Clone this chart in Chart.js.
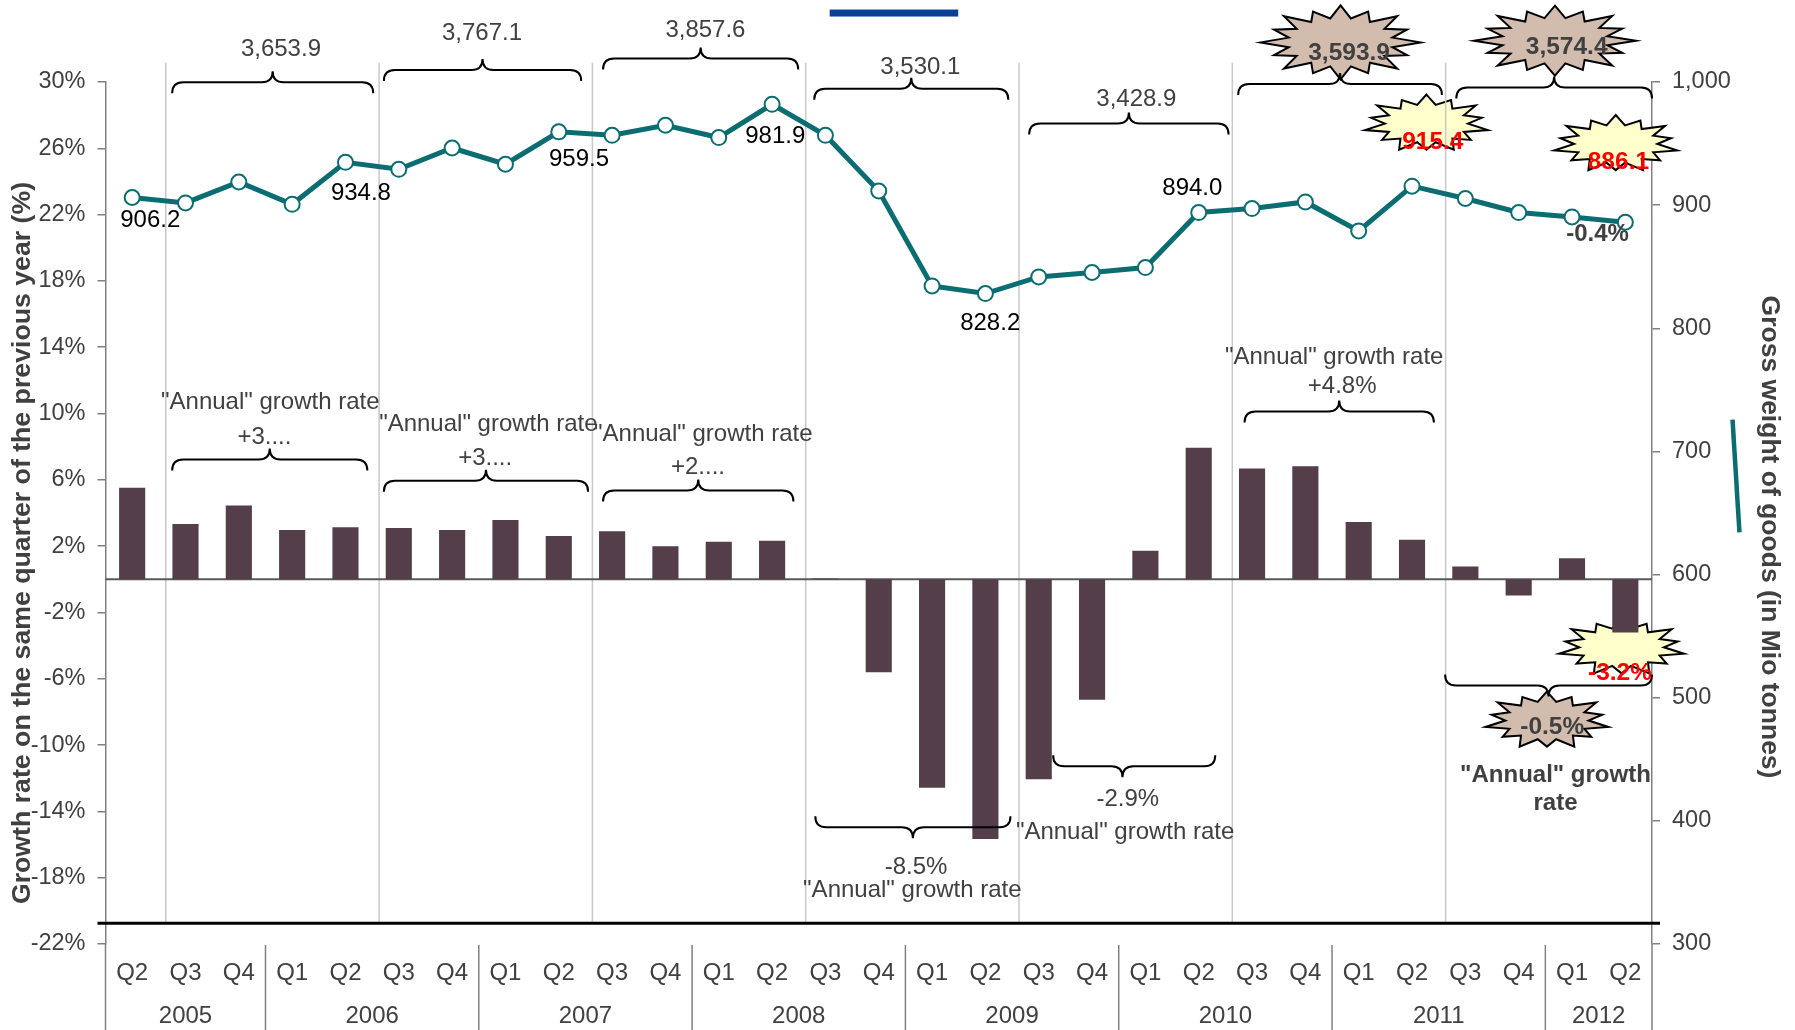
<!DOCTYPE html>
<html>
<head>
<meta charset="utf-8">
<title>Gross weight of goods</title>
<script src="https://cdn.jsdelivr.net/npm/chart.js@4.4.1/dist/chart.umd.min.js"></script>
<style>
  body { margin: 0; background: #fff; }
  canvas { display: block; }
</style>
</head>
<body>
<canvas id="chart" width="1795" height="1030"></canvas>
<script>
// categories
const years = ["2005", "2006", "2007", "2008", "2009", "2010", "2011", "2012"];
const quartersPerYear = [3, 4, 4, 4, 4, 4, 4, 2];
const quarters = [
  "Q2", "Q3", "Q4",
  "Q1", "Q2", "Q3", "Q4",
  "Q1", "Q2", "Q3", "Q4",
  "Q1", "Q2", "Q3", "Q4",
  "Q1", "Q2", "Q3", "Q4",
  "Q1", "Q2", "Q3", "Q4",
  "Q1", "Q2", "Q3", "Q4",
  "Q1", "Q2"
];

// growth rate on same quarter of previous year (%), left axis
const growthRate = [
  5.53, 3.34, 4.45, 2.98, 3.14, 3.10, 2.98, 3.58, 2.62, 2.90,
  1.99, 2.27, 2.32, 0.05, -5.61, -12.58, -15.66, -12.06, -7.27, 1.73,
  7.93, 6.68, 6.82, 3.46, 2.38, 0.78, -0.98, 1.27, -3.21
];

// gross weight of goods (Mio tonnes), right axis
const grossWeight = [
  906.2, 901.8, 918.8, 900.7, 934.8, 929.1, 946.4, 933.2, 959.5, 956.7,
  964.9, 954.9, 981.9, 956.7, 911.5, 834.4, 828.2, 841.7, 845.3, 849.3,
  894.0, 897.2, 902.6, 879.1, 915.4, 905.4, 894.0, 890.4, 886.1
];

// first quarter (Q3) of each "annual" period
const periodStarts = [1, 5, 9, 13, 17, 21, 25];
const periodTotals = ["3,653.9", "3,767.1", "3,857.6", "3,530.1", "3,428.9", "3,593.9", "3,574.4"];
const annualRates = ["+3....", "+3....", "+2....", "-8.5%", "-2.9%", "+4.8%", "-0.5%"];
const labelledPoints = [0, 4, 8, 12, 16, 20];

const FONT = "'Liberation Sans', Arial, sans-serif";
const BAR = "#533e4a";
const TEAL = "#0b6d71";
const TAN = "#d2bcae";
const YELLOW = "#ffffcc";
const GREY_TXT = "#404040";

// annotation layout, anchored in category index / left-axis units
// [from, to, y, dir (-1 tip up, 1 tip down), tip]
const braces = [
  [0.75, 4.52, 29.98, -1], [4.72, 8.42, 30.72, -1], [8.83, 12.49, 31.42, -1],
  [12.79, 16.43, 29.6, -1], [16.82, 20.56, 27.5, -1], [20.74, 24.56, 29.88, -1],
  [24.83, 28.5, 29.67, -1],
  [0.75, 4.41, 7.22, -1], [4.72, 8.55, 5.95, -1], [8.83, 12.4, 5.35, -1],
  [20.86, 24.41, 10.13, -1],
  [12.81, 16.47, -14.96, 1], [17.27, 20.31, -11.28, 1, 18.57], [24.62, 28.5, -6.41, 1]
];
// [text, x, y, bold, colour]
const notes = [
  [periodTotals[0], 2.79, 31.95], [periodTotals[1], 6.56, 32.91], [periodTotals[2], 10.75, 33.09],
  [periodTotals[3], 14.78, 30.9], [periodTotals[4], 18.83, 28.98],
  ['"Annual" growth rate', 2.59, 10.68], [annualRates[0], 2.48, 8.56],
  ['"Annual" growth rate', 6.68, 9.37], [annualRates[1], 6.62, 7.32],
  ['"Annual" growth rate', 10.71, 8.77], [annualRates[2], 10.61, 6.76],
  [annualRates[3], 14.7, -17.36], ['"Annual" growth rate', 14.63, -18.78],
  [annualRates[4], 18.67, -13.3], ['"Annual" growth rate', 18.62, -15.26],
  ['"Annual" growth rate', 22.54, 13.39], [annualRates[5], 22.69, 11.62],
  ['"Annual" growth', 26.69, -11.84, true], ["rate", 26.69, -13.53, true],
  ["-0.4%", 27.48, 20.83, true]
];
// point label offsets (index, y) for labelledPoints
const pointNotePos = [[0.34, 21.63], [4.29, 23.3], [8.38, 25.36], [12.06, 26.7], [16.09, 15.44], [19.88, 23.6]];
// [cx, cy, rx, ry, spikes, fill, text, tx, ty, colour]
const bursts = [
  [22.66, 32.39, 80, 37, 16, TAN, periodTotals[5], 22.82, 31.71, GREY_TXT],
  [26.68, 32.49, 81, 35, 16, TAN, periodTotals[6], 26.9, 32.08, GREY_TXT],
  [24.27, 27.49, 63, 29, 14, YELLOW, "915.4", 24.39, 26.36, "#ff0000"],
  [27.82, 26.26, 63, 29, 14, YELLOW, "886.1", 27.87, 25.15, "#ff0000"],
  [27.93, -4.1, 64, 29, 14, YELLOW, "-3.2%", 27.9, -5.69, "#ff0000"],
  [26.53, -8.52, 63, 29, 14, TAN, annualRates[6], 26.63, -8.93, GREY_TXT]
];

function drawBurst(ctx, cx, cy, rx, ry, n, fill) {
  ctx.beginPath();
  for (let k = 0; k < 2 * n; k++) {
    const ang = -Math.PI / 2 + k * Math.PI / n;
    const f = k % 2 ? 0.66 : ((k / 2) % 2 ? 0.9 : 1);
    const px = cx + Math.cos(ang) * rx * f, py = cy + Math.sin(ang) * ry * f;
    if (k) ctx.lineTo(px, py); else ctx.moveTo(px, py);
  }
  ctx.closePath();
  ctx.fillStyle = fill;
  ctx.fill();
  ctx.lineWidth = 2;
  ctx.strokeStyle = "#000";
  ctx.stroke();
}

function drawBrace(ctx, x1, x2, y, u, tx) {
  const r = 11, leg = 11, tip = 11;
  ctx.beginPath();
  ctx.moveTo(x1, y - u * leg);
  ctx.quadraticCurveTo(x1, y, x1 + r, y);
  ctx.lineTo(tx - r, y);
  ctx.quadraticCurveTo(tx, y, tx, y + u * tip);
  ctx.quadraticCurveTo(tx, y, tx + r, y);
  ctx.lineTo(x2 - r, y);
  ctx.quadraticCurveTo(x2, y, x2, y - u * leg);
  ctx.stroke();
}

const decorations = {
  id: "decorations",
  beforeDatasetsDraw(chart) {
    const { ctx, chartArea: a, scales: { x, y } } = chart;
    const X = v => x.getPixelForValue(v), Y = v => y.getPixelForValue(v);
    const w = X(1) - X(0);
    ctx.save();
    bursts.forEach(b => drawBurst(ctx, X(b[0]), Y(b[1]), b[2], b[3], b[4], b[5]));
    // period separators
    ctx.strokeStyle = "#c8c8c8";
    ctx.lineWidth = 1.5;
    periodStarts.forEach(i => {
      const px = X(i) - 0.37 * w;
      ctx.beginPath(); ctx.moveTo(px, Y(31.16)); ctx.lineTo(px, Y(-20.75)); ctx.stroke();
    });
    // zero line
    ctx.strokeStyle = "#595959";
    ctx.lineWidth = 2;
    ctx.beginPath(); ctx.moveTo(a.left, Y(0)); ctx.lineTo(a.right, Y(0)); ctx.stroke();
    ctx.restore();
  },
  afterDatasetsDraw(chart) {
    const { ctx, chartArea: a, scales: { x, y } } = chart;
    const X = v => x.getPixelForValue(v), Y = v => y.getPixelForValue(v);
    ctx.save();
    // black base line
    ctx.strokeStyle = "#000";
    ctx.lineWidth = 3;
    ctx.beginPath(); ctx.moveTo(a.left - 8, Y(-20.75)); ctx.lineTo(a.right + 8, Y(-20.75)); ctx.stroke();

    // braces
    ctx.lineWidth = 2;
    ctx.strokeStyle = "#000";
    braces.forEach(b => {
      const tip = b[4] !== undefined ? b[4] : (b[0] + b[1]) / 2;
      drawBrace(ctx, X(b[0]), X(b[1]), Y(b[2]), b[3], X(tip));
    });

    ctx.textAlign = "center";
    ctx.textBaseline = "middle";
    // burst labels
    bursts.forEach(b => {
      ctx.font = "bold 24.5px " + FONT;
      ctx.fillStyle = b[9];
      ctx.fillText(b[6], X(b[7]), Y(b[8]));
    });
    // notes
    notes.forEach(n => {
      ctx.font = (n[3] ? "bold " : "") + "24px " + FONT;
      ctx.fillStyle = n[4] || GREY_TXT;
      ctx.fillText(n[0], X(n[1]), Y(n[2]));
    });
    // point value labels
    ctx.font = "24px " + FONT;
    ctx.fillStyle = "#000";
    labelledPoints.forEach((i, k) => {
      ctx.fillText(grossWeight[i].toFixed(1), X(pointNotePos[k][0]), Y(pointNotePos[k][1]));
    });
    ctx.restore();
  },
  afterDraw(chart) {
    const { ctx, chartArea: a, scales: { x, y } } = chart;
    const X = v => x.getPixelForValue(v), Y = v => y.getPixelForValue(v);
    const H = chart.height;
    ctx.save();
    // category axis: quarters and years
    ctx.font = "24px " + FONT;
    ctx.fillStyle = GREY_TXT;
    ctx.textAlign = "center";
    ctx.textBaseline = "middle";
    quarters.forEach((q, i) => ctx.fillText(q, X(i), a.bottom + 29));
    ctx.strokeStyle = "#808080";
    ctx.lineWidth = 1.5;
    let s = 0;
    years.forEach((yr, k) => {
      const e = s + quartersPerYear[k] - 1;
      ctx.fillText(yr, (X(s) + X(e)) / 2, a.bottom + 72);
      if (k < years.length - 1) {
        const px = (X(e) + X(e + 1)) / 2;
        ctx.beginPath(); ctx.moveTo(px, a.bottom + 1); ctx.lineTo(px, H); ctx.stroke();
      }
      s = e + 1;
    });
    // axis lines continue down through the category labels
    [a.left, a.right].forEach(px => {
      ctx.beginPath(); ctx.moveTo(px, a.bottom); ctx.lineTo(px, H); ctx.stroke();
    });

    // axis titles
    ctx.fillStyle = GREY_TXT;
    ctx.font = "bold 26.7px " + FONT;
    ctx.save();
    ctx.translate(23, 543);
    ctx.rotate(-Math.PI / 2);
    ctx.fillText("Growth rate on the same quarter of the previous year (%)", 0, 0);
    ctx.restore();
    ctx.font = "bold 26.5px " + FONT;
    ctx.save();
    ctx.translate(1769, 537);
    ctx.rotate(Math.PI / 2);
    ctx.fillText("Gross weight of goods (in Mio tonnes)", 0, 0);
    ctx.restore();

    // stray marks of the original
    ctx.strokeStyle = TEAL;
    ctx.lineWidth = 4.5;
    ctx.beginPath(); ctx.moveTo(X(30.01), Y(9.63)); ctx.lineTo(X(30.14), Y(2.83)); ctx.stroke();
    ctx.fillStyle = "#0a3f93";
    ctx.fillRect(X(13.08), Y(34.16) - 3.5, X(15.49) - X(13.08), 7);
    ctx.restore();
  }
};

const labels = quarters.map((q, i) => {
  let s = 0;
  for (let k = 0; k < years.length; k++) {
    if (i < s + quartersPerYear[k]) return years[k] + " " + q;
    s += quartersPerYear[k];
  }
  return q;
});

new Chart(document.getElementById("chart"), {
  type: "bar",
  data: {
    labels,
    datasets: [
      {
        type: "line",
        label: "Gross weight of goods",
        data: grossWeight,
        yAxisID: "y1",
        order: 0,
        borderColor: TEAL,
        borderWidth: 5,
        tension: 0,
        pointRadius: 7.5,
        pointBorderWidth: 2,
        pointBackgroundColor: "#fff",
        pointBorderColor: TEAL
      },
      {
        type: "bar",
        label: "Growth rate",
        data: growthRate,
        yAxisID: "y",
        order: 1,
        backgroundColor: BAR,
        barPercentage: 0.49,
        categoryPercentage: 1
      }
    ]
  },
  options: {
    responsive: false,
    animation: false,
    layout: { padding: { top: 82, bottom: 86, left: 0, right: 0 } },
    plugins: { legend: { display: false }, tooltip: { enabled: false } },
    scales: {
      x: { display: false, offset: true },
      y: {
        position: "left",
        min: -22, max: 30,
        afterFit: s => { s.width = 105.5; },
        ticks: { stepSize: 4, callback: v => v + "%", color: GREY_TXT, padding: 12, font: { family: FONT, size: 23.5 } },
        grid: { drawOnChartArea: false, tickLength: 8, color: "#808080", lineWidth: 1.5 },
        border: { color: "#808080", width: 1.5 }
      },
      y1: {
        position: "right",
        min: 300, max: 1000,
        afterFit: s => { s.width = 143; },
        ticks: { stepSize: 100, callback: v => v.toLocaleString("en-US"), color: GREY_TXT, padding: 12, font: { family: FONT, size: 23.5 } },
        grid: { drawOnChartArea: false, tickLength: 8, color: "#808080", lineWidth: 1.5 },
        border: { color: "#808080", width: 1.5 }
      }
    }
  },
  plugins: [decorations]
});
</script>
</body>
</html>
